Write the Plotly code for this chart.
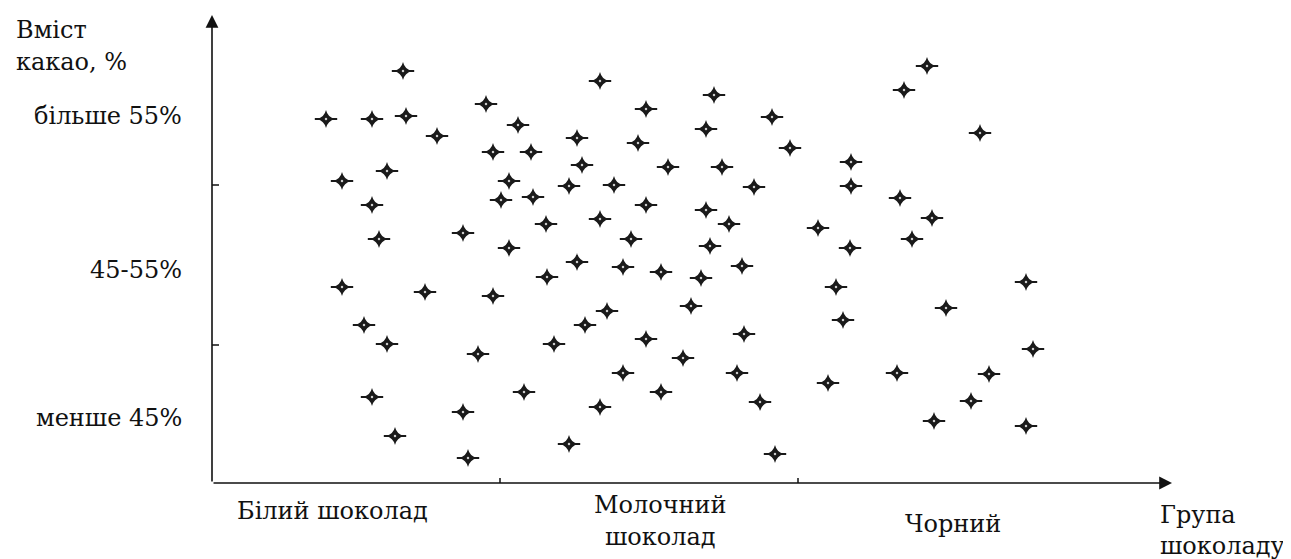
import plotly.graph_objects as go

# Data (x: horizontal position along the group axis, y: cocoa content scale)
white_x = [114, 160, 191, 194, 225, 274, 306, 281, 319, 175, 130, 297, 289, 321, 160, 334,
           167, 251, 297, 130, 213, 281, 335, 152, 175, 266, 342, 160, 312, 251, 183, 256]
white_y = [364, 364, 412, 367, 347, 379, 358, 331, 331, 312, 302, 302, 283, 286, 278, 259,
           244, 250, 235, 196, 191, 187, 206, 158, 139, 129, 139, 86, 91, 71, 47, 25]

milk_x = [388, 502, 434, 560, 365, 426, 494, 578, 370, 456, 510, 357, 402, 542, 434, 494,
          388, 517, 419, 498, 365, 411, 449, 489, 530, 395, 373, 479, 434, 532, 471, 411,
          525, 449, 388, 548, 357, 563]
milk_y = [402, 388, 374, 366, 345, 340, 354, 335, 318, 316, 316, 297, 298, 296, 278, 273,
          264, 259, 244, 237, 221, 216, 211, 205, 217, 172, 158, 177, 144, 149, 125, 110,
          110, 91, 76, 81, 39, 29]

dark_x = [715, 692, 768, 639, 639, 688, 720, 606, 700, 638, 624, 631, 616, 685, 734, 814,
          821, 777, 759, 722, 814]
dark_y = [417, 393, 350, 321, 297, 285, 265, 255, 244, 235, 196, 163, 100, 110, 175, 201,
          134, 109, 82, 62, 57]

x_ticks = [288, 586]
y_ticks = [138, 298]
x_max = 960
y_max = 468

FONT = "DejaVu Serif"
FS = 24

fig = go.Figure()
all_x = white_x + milk_x + dark_x
all_y = white_y + milk_y + dark_y
fig.add_trace(go.Scatter(x=all_x, y=all_y, mode="markers",
                         marker=dict(symbol="line-ew", size=16,
                                     line=dict(color="#1a1a1a", width=2)),
                         hoverinfo="skip"))
fig.add_trace(go.Scatter(x=all_x, y=all_y, mode="markers",
                         marker=dict(symbol="star-diamond", size=13, color="#1a1a1a",
                                     line=dict(width=0)),
                         hoverinfo="skip"))
fig.add_trace(go.Scatter(x=all_x, y=all_y, mode="markers",
                         marker=dict(symbol="circle", size=2.5, color="#ccc",
                                     line=dict(width=0)),
                         hoverinfo="skip"))

shapes = []
for t in x_ticks:
    shapes.append(dict(type="line", xref="x", yref="y", x0=t, x1=t, y0=-9, y1=5,
                       line=dict(color="#111", width=1.5)))
for t in y_ticks:
    shapes.append(dict(type="line", xref="x", yref="y", x0=-7, x1=7, y0=t, y1=t,
                       line=dict(color="#111", width=1.5)))

ann = [
    dict(x=x_max, y=0, ax=0, ay=0, axref="x", ayref="y", xref="x", yref="y",
         text="", showarrow=True, arrowhead=2, arrowsize=1.6, arrowwidth=1.6,
         arrowcolor="#111"),
    dict(x=0, y=y_max, ax=0, ay=0, axref="x", ayref="y", xref="x", yref="y",
         text="", showarrow=True, arrowhead=2, arrowsize=1.6, arrowwidth=1.6,
         arrowcolor="#111"),
]

def lab(text, x, y, xanchor="center", align="center"):
    ann.append(dict(x=x / x_max, y=y / y_max, xref="paper", yref="paper", text=text,
                    showarrow=False, xanchor=xanchor, yanchor="middle", align=align,
                    font=dict(family=FONT, size=FS, color="#111")))

lab("Вміст", -198, 453, "left")
lab("какао, %", -198, 421, "left")
lab("більше 55%", -28, 367, "right")
lab("45-55%", -28, 213, "right")
lab("менше 45%", -28, 65, "right")
lab("Білий шоколад", 120, -28)
lab("Молочний", 448, -22)
lab("шоколад", 448, -54)
lab("Чорний", 741, -41)
lab("Група<br>шоколаду", 946, -47, "left", "left")

fig.update_layout(
    width=1291, height=559,
    margin=dict(l=204, r=127, t=7, b=84),
    paper_bgcolor="white", plot_bgcolor="white",
    showlegend=False,
    xaxis=dict(range=[0, x_max], visible=False, fixedrange=True),
    yaxis=dict(range=[0, y_max], visible=False, fixedrange=True),
    shapes=shapes, annotations=ann,
)

fig.write_html("out.html")
